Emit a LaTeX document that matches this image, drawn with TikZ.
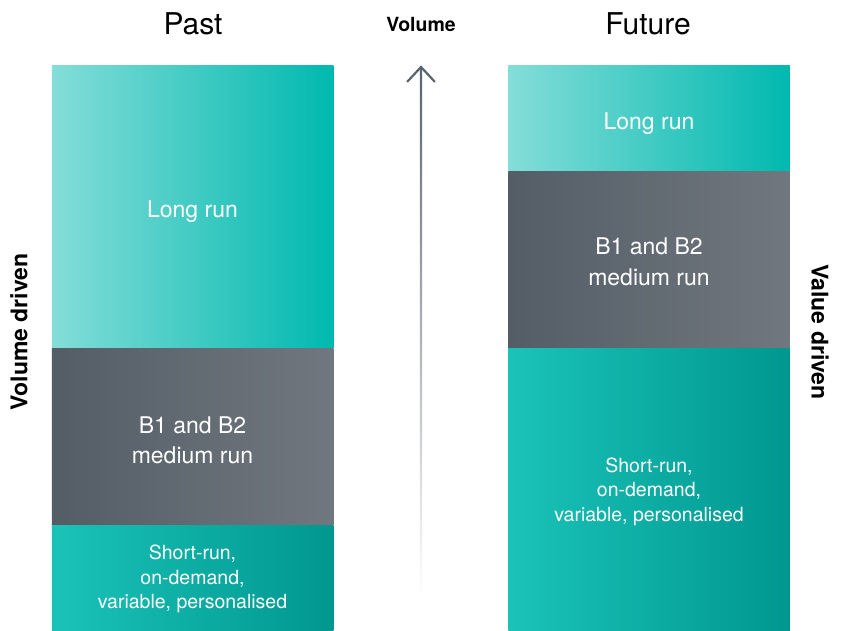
\documentclass[tikz,border=0pt]{standalone}
\usepackage{fontspec}
\setmainfont{TeX Gyre Heros}
\usetikzlibrary{calc}
\definecolor{tealL}{HTML}{84DDD8}
\definecolor{tealR}{HTML}{00B9AF}
\definecolor{grayL}{HTML}{545D66}
\definecolor{grayR}{HTML}{70777F}
\definecolor{shortL}{HTML}{1AC3B8}
\definecolor{shortR}{HTML}{00978F}
\definecolor{arrowgray}{HTML}{5B646C}
\begin{document}
\begin{tikzpicture}[x=1pt,y=-1pt,
  boxbase/.style={rectangle, inner sep=0pt, minimum width=281.5pt},
  longbox/.style={boxbase, left color=tealL, right color=tealR},
  midbox/.style={boxbase, left color=grayL, right color=grayR},
  shortbox/.style={boxbase, left color=shortL, right color=shortR},
  boxtext/.style={align=center, text=white, inner sep=0pt},
  bigtext/.style={boxtext, font=\fontsize{23}{30.5}\selectfont},
  smalltext/.style={boxtext, font=\fontsize{19.5}{24.5}\selectfont},
  heading/.style={font=\fontsize{30}{36}\selectfont, text=black, inner sep=0pt},
  sidelabel/.style={font=\bfseries\fontsize{23}{28}\selectfont, text=black, inner sep=0pt},
  toplabel/.style={font=\bfseries\fontsize{19.5}{24}\selectfont, text=black, inner sep=0pt},
  arrowline/.style={top color=arrowgray, bottom color=white},
  arrowhead/.style={draw=arrowgray, line width=2.2pt, line cap=round, line join=miter}
]
\fill[white] (0,0) rectangle (841,631);
\useasboundingbox (0,0) rectangle (841,631);

% Left column (Past)
\node[longbox, minimum height=282pt] (plong) at (192.5,207) {};
\node[midbox, minimum height=177pt] (pmid) at (192.5,436.5) {};
\node[shortbox, minimum height=106pt] (pshort) at (192.5,578) {};
\node[bigtext] (plongt) at ($(plong.center)+(0,5)$) {Long run};
\node[bigtext] (pmidt) at ($(pmid.center)+(0,4)$) {B1 and B2\\medium run};
\node[smalltext] (pshortt) at ($(pshort.center)+(0,1)$) {Short-run,\\on-demand,\\variable, personalised};

% Right column (Future)
\node[longbox, minimum height=106pt] (flong) at (649,119) {};
\node[midbox, minimum height=176pt] (fmid) at (649,260) {};
\node[shortbox, minimum height=283pt] (fshort) at (649,489.5) {};
\node[bigtext] (flongt) at ($(flong.center)+(0,5)$) {Long run};
\node[bigtext] (fmidt) at ($(fmid.center)+(0,2)$) {B1 and B2\\medium run};
\node[smalltext] (fshortt) at ($(fshort.center)+(0,2)$) {Short-run,\\on-demand,\\variable, personalised};

% Headings
\node[heading] (past) at (193,24) {Past};
\node[heading] (future) at (648,24) {Future};
\node[toplabel] (vol) at (421,24) {Volume};

% Side labels
\node[sidelabel, rotate=90] (voldriven) at (19,332) {Volume driven};
\node[sidelabel, rotate=-90] (valdriven) at (820,332) {Value driven};

% Volume arrow
\coordinate (atop) at (421,67);
\coordinate (abot) at (421,596);
\shade[arrowline] ($(atop)+(-1.1,1)$) rectangle ($(abot)+(1.1,0)$);
\draw[arrowhead] ($(atop)+(-13.5,14.5)$) -- (atop) -- ($(atop)+(13.5,14.5)$);
\end{tikzpicture}
\end{document}
